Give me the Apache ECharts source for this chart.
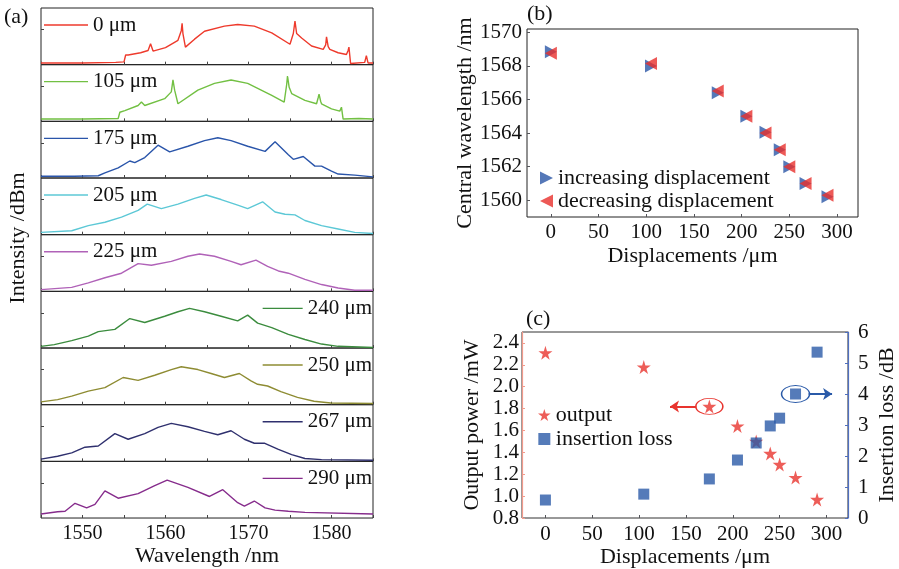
<!doctype html>
<html lang="en">
<head>
  <meta charset="utf-8">
  <title>Spectra and displacement</title>
  <script src="https://cdn.jsdelivr.net/npm/echarts@6/dist/echarts.min.js"></script>
  <style>
    html, body { margin: 0; padding: 0; background: #fff; }
    #chart { width: 899px; height: 569px; }
  </style>
</head>
<body>
  <div id="chart"></div>
  <script type="text/javascript">
    // (a) spectra, [wavelength nm, relative level in panel]
    const spec0 = [[1545,0.03],[1550,0.03],[1554,0.04],[1555,0.05],[1555.2,0.17],[1555.5,0.17],[1557,0.21],[1557.9,0.25],[1558.2,0.37],[1558.5,0.24],[1560,0.30],[1561.5,0.43],[1561.9,0.60],[1562,0.73],[1562.1,0.55],[1562.4,0.31],[1563.5,0.45],[1564.7,0.59],[1567.1,0.68],[1568.7,0.71],[1570.7,0.68],[1572.8,0.56],[1575,0.36],[1575.4,0.55],[1575.6,0.77],[1575.8,0.55],[1576.4,0.47],[1577.6,0.33],[1579,0.27],[1579.3,0.35],[1579.4,0.49],[1579.6,0.32],[1579.8,0.27],[1580.8,0.21],[1581.8,0.18],[1582,0.25],[1582.1,0.31],[1582.3,0.02],[1584,0.04],[1584.2,0.16],[1584.4,0.03],[1585,0.03]];
    const spec105 = [[1545,0.04],[1550,0.04],[1554.3,0.05],[1554.5,0.16],[1555.1,0.19],[1556.7,0.28],[1557.1,0.34],[1557.2,0.36],[1557.5,0.28],[1559.9,0.40],[1560.7,0.52],[1560.9,0.73],[1561.1,0.55],[1561.5,0.31],[1563.9,0.55],[1565.9,0.67],[1567.9,0.73],[1569.9,0.67],[1572.8,0.46],[1574.3,0.34],[1574.6,0.65],[1574.7,0.80],[1574.9,0.60],[1575.2,0.49],[1576.8,0.37],[1578.2,0.31],[1578.4,0.42],[1578.5,0.48],[1578.7,0.35],[1578.8,0.31],[1580,0.22],[1581,0.18],[1581.2,0.25],[1581.4,0.04],[1583.3,0.05],[1583.4,0.08],[1583.5,0.04],[1585,0.04]];
    const spec175 = [[1545,0.03],[1549,0.03],[1551.9,0.04],[1552.7,0.09],[1554.3,0.18],[1555.7,0.30],[1556.3,0.27],[1557.5,0.36],[1559.1,0.58],[1560.5,0.46],[1562.7,0.56],[1564.7,0.66],[1566.3,0.71],[1567.9,0.66],[1569.9,0.56],[1572,0.47],[1573.2,0.64],[1574.8,0.41],[1575.4,0.33],[1576.6,0.38],[1578,0.21],[1578.8,0.21],[1580,0.12],[1580.8,0.07],[1582.8,0.05],[1585,0.02]];
    const spec205 = [[1545,0.04],[1548.7,0.07],[1550.7,0.16],[1552.7,0.22],[1554.7,0.31],[1556.7,0.43],[1557.8,0.54],[1559.5,0.46],[1561.5,0.54],[1563.5,0.64],[1564.9,0.70],[1566.7,0.62],[1568.7,0.52],[1569.9,0.46],[1571.7,0.58],[1573.2,0.40],[1574.4,0.36],[1575.6,0.35],[1576.8,0.25],[1578.8,0.16],[1580.8,0.10],[1582.8,0.04],[1585,0.02]];
    const spec225 = [[1545,0.03],[1548.7,0.07],[1550.7,0.15],[1552.7,0.24],[1554.7,0.32],[1556.7,0.49],[1558.3,0.46],[1560.7,0.53],[1562.7,0.62],[1564.1,0.66],[1565.9,0.62],[1567.9,0.53],[1569.1,0.47],[1570.9,0.55],[1572.3,0.44],[1573.6,0.36],[1574.8,0.32],[1576.8,0.21],[1578.8,0.12],[1580.8,0.06],[1582.8,0.02],[1585,0.02]];
    const spec240 = [[1545,0.03],[1546.6,0.06],[1548.7,0.13],[1550.7,0.21],[1551.9,0.29],[1553.9,0.33],[1555.7,0.52],[1557.5,0.45],[1559.9,0.56],[1561.5,0.64],[1562.9,0.70],[1564.7,0.64],[1566.7,0.56],[1568.7,0.48],[1569.9,0.58],[1571.1,0.44],[1572.8,0.36],[1574.8,0.24],[1576.8,0.15],[1578.8,0.07],[1580.8,0.03],[1585,0.01]];
    const spec250 = [[1545,0.05],[1547,0.09],[1548.7,0.15],[1550.7,0.24],[1552.7,0.30],[1554.9,0.48],[1556.7,0.43],[1558.7,0.52],[1560.7,0.62],[1561.9,0.67],[1563.9,0.62],[1565.5,0.55],[1567.1,0.48],[1568.9,0.55],[1570.3,0.42],[1571.1,0.36],[1572.3,0.33],[1573.9,0.23],[1575.9,0.13],[1577.9,0.06],[1579.9,0.03],[1585,0.02]];
    const spec267 = [[1545,0.04],[1547,0.09],[1548.7,0.15],[1550.3,0.25],[1551.9,0.27],[1553.9,0.49],[1555.5,0.39],[1557.5,0.49],[1559.1,0.60],[1560.7,0.67],[1562.7,0.61],[1564.7,0.53],[1566.3,0.47],[1567.9,0.54],[1569.5,0.39],[1570.7,0.32],[1571.9,0.32],[1573.6,0.21],[1575.2,0.12],[1576.8,0.05],[1578.8,0.03],[1585,0.02]];
    const spec290 = [[1545,0.07],[1547,0.11],[1547.9,0.12],[1549.1,0.26],[1550.5,0.18],[1551.5,0.24],[1552.7,0.48],[1554.3,0.35],[1556.7,0.43],[1558.7,0.57],[1560.2,0.67],[1562.7,0.54],[1565.3,0.38],[1566.9,0.50],[1568.7,0.27],[1569.5,0.21],[1570.7,0.30],[1572,0.18],[1573.2,0.14],[1574.8,0.12],[1576.8,0.10],[1585,0.07]];

    const specNames = ['0 μm', '105 μm', '175 μm', '205 μm', '225 μm', '240 μm', '250 μm', '267 μm', '290 μm'];
    const specColors = ['#ee3a2c', '#72c043', '#2a55aa', '#5cc8d6', '#b062b8', '#3b8c3e', '#8e8c33', '#2f306e', '#862c8c'];
    const spectra = [spec0, spec105, spec175, spec205, spec225, spec240, spec250, spec267, spec290];
    const wlLabels = [1550, 1560, 1570, 1580];

    // (b) central wavelength vs displacement
    const displacements = [0, 105, 175, 205, 225, 240, 250, 267, 290];
    const wlIncreasing = [1568.85, 1568.0, 1566.4, 1565.0, 1564.05, 1563.0, 1562.0, 1561.0, 1560.2];
    const wlDecreasing = [1568.75, 1568.15, 1566.5, 1565.0, 1564.0, 1563.0, 1562.0, 1561.0, 1560.3];
    const wlTicks = [1560, 1562, 1564, 1566, 1568, 1570];
    const dispTicks = [0, 50, 100, 150, 200, 250, 300];

    // (c) output power and insertion loss
    const outputPower = [2.31, 2.18, 1.82, 1.64, 1.50, 1.39, 1.29, 1.17, 0.97];
    const insertionLoss = [0.58, 0.77, 1.26, 1.87, 2.42, 2.97, 3.22, 4.0, 5.35];
    const powerTicks = [0.8, 1.0, 1.2, 1.4, 1.6, 1.8, 2.0, 2.2, 2.4];

    const FONT = '"Liberation Serif", "DejaVu Serif", serif';
    const plain = v => String(v);
    const triRight = 'path://M0,0 L10,5 L0,10 Z';
    const triLeft = 'path://M10,0 L0,5 L10,10 Z';
    const star = 'path://M50,0 L61,35 L98,35 L68,57 L79,91 L50,70 L21,91 L32,57 L2,35 L39,35 Z';
    const square = 'path://M0,0 H10 V10 H0 Z';
    const ellipse = 'path://M0,10 A20,10 0 1,1 40,10 A20,10 0 1,1 0,10 Z';

    const chart = echarts.init(document.getElementById('chart'));

    const grids = [], xAxes = [], yAxes = [], series = [], legends = [];
    const aTop = 8, aH = 56.67;
    spectra.forEach((d, i) => {
      const last = i === spectra.length - 1;
      grids.push({ left: 41, width: 332, top: aTop + i * aH, height: aH, show: true, borderColor: '#222', borderWidth: 1 });
      xAxes.push({
        type: 'value', gridIndex: i, min: 1545, max: 1585, interval: 5,
        axisLine: { show: false },
        axisTick: { show: true, inside: true, length: 3, lineStyle: { color: '#444' } },
        axisLabel: last ? { show: true, customValues: wlLabels, formatter: plain, fontFamily: FONT, fontSize: 20, color: '#111', margin: 6 } : { show: false },
        splitLine: { show: false },
        name: last ? 'Wavelength /nm' : '', nameLocation: 'middle', nameGap: 27,
        nameTextStyle: { fontFamily: FONT, fontSize: 22, color: '#111' }
      });
      yAxes.push({
        type: 'value', gridIndex: i, min: 0, max: 1,
        axisLine: { show: false, onZero: false },
        axisTick: { show: true, inside: true, length: 3, customValues: [0.62], lineStyle: { color: '#444' } },
        axisLabel: { show: false }, splitLine: { show: false }
      });
      series.push({
        name: specNames[i], type: 'line', xAxisIndex: i, yAxisIndex: i,
        data: d, symbol: 'none', showSymbol: false,
        lineStyle: { width: 1.4, color: specColors[i] }, itemStyle: { color: specColors[i] }
      });
      const leg = {
        data: [specNames[i]], icon: 'rect', itemWidth: i < 5 ? 44 : 40, itemHeight: 1.4,
        top: aTop + i * aH + 6, textStyle: { fontFamily: FONT, fontSize: 21, lineHeight: 22, color: '#111' },
        selectedMode: false, padding: 0
      };
      if (i < 5) leg.left = 44; else leg.right = 527;
      legends.push(leg);
    });

    // (b)
    grids.push({ left: 527, right: 41, top: 29, height: 188, show: true, borderColor: '#222', borderWidth: 1 });
    xAxes.push({
      type: 'value', gridIndex: 9, min: -25, max: 322,
      axisLine: { show: false, onZero: false },
      axisTick: { show: true, inside: true, length: 3, customValues: dispTicks },
      axisLabel: { customValues: dispTicks, formatter: plain, fontFamily: FONT, fontSize: 21, color: '#111', margin: 5 },
      splitLine: { show: false },
      name: 'Displacements /μm', nameLocation: 'middle', nameGap: 28,
      nameTextStyle: { fontFamily: FONT, fontSize: 22, color: '#111' }
    });
    yAxes.push({
      type: 'value', gridIndex: 9, min: 1559, max: 1570.2,
      axisLine: { show: false, onZero: false },
      axisTick: { show: true, inside: true, length: 3, customValues: wlTicks },
      axisLabel: { customValues: wlTicks, formatter: plain, fontFamily: FONT, fontSize: 21, color: '#111', margin: 5 },
      splitLine: { show: false },
      name: 'Central wavelength /nm', nameLocation: 'middle', nameGap: 51,
      nameTextStyle: { fontFamily: FONT, fontSize: 22, color: '#111' }
    });
    series.push({
      name: 'increasing displacement', type: 'scatter', xAxisIndex: 9, yAxisIndex: 9,
      data: displacements.map((x, k) => [x, wlIncreasing[k]]),
      symbol: triRight, symbolSize: [12, 13], itemStyle: { color: '#2a56a6' }
    });
    series.push({
      name: 'decreasing displacement', type: 'scatter', xAxisIndex: 9, yAxisIndex: 9,
      data: displacements.map((x, k) => [x, wlDecreasing[k]]),
      symbol: triLeft, symbolSize: [12, 13], itemStyle: { color: '#e8302c' }, z: 3
    });
    legends.push({
      data: [{ name: 'increasing displacement', icon: triRight }, { name: 'decreasing displacement', icon: triLeft }],
      orient: 'vertical', left: 540, top: 167, itemWidth: 13, itemHeight: 14, itemGap: 1, padding: 0,
      selectedMode: false,
      textStyle: { fontFamily: FONT, fontSize: 22, lineHeight: 22, color: '#111' }
    });

    // (c)
    grids.push({ left: 522, right: 45, top: 332, height: 186, show: true, borderColor: '#333', borderWidth: 1 });
    xAxes.push({
      type: 'value', gridIndex: 10, min: -25, max: 323,
      axisLine: { show: false, onZero: false },
      axisTick: { show: true, inside: true, length: 3, customValues: dispTicks },
      axisLabel: { customValues: dispTicks, formatter: plain, fontFamily: FONT, fontSize: 21, color: '#111', margin: 6 },
      splitLine: { show: false },
      name: 'Displacements /μm', nameLocation: 'middle', nameGap: 28,
      nameTextStyle: { fontFamily: FONT, fontSize: 22, color: '#111' }
    });
    yAxes.push({
      type: 'value', gridIndex: 10, min: 0.8, max: 2.5, position: 'left',
      axisLine: { show: true, onZero: false, lineStyle: { color: '#f29a8c', width: 1.2 } },
      axisTick: { show: true, inside: true, length: 3, customValues: powerTicks },
      axisLabel: { customValues: powerTicks, formatter: v => v.toFixed(1), fontFamily: FONT, fontSize: 21, color: '#111', margin: 3 },
      splitLine: { show: false },
      name: 'Output power /mW', nameLocation: 'middle', nameGap: 39,
      nameTextStyle: { fontFamily: FONT, fontSize: 22, color: '#111' }
    });
    yAxes.push({
      type: 'value', gridIndex: 10, min: 0, max: 6, interval: 1, position: 'right',
      axisLine: { show: true, onZero: false, lineStyle: { color: '#4f6fc0', width: 1.2 } },
      axisTick: { show: true, inside: true, length: 3 },
      axisLabel: { fontFamily: FONT, fontSize: 21, color: '#111', margin: 10 },
      splitLine: { show: false },
      name: 'Insertion loss /dB', nameLocation: 'middle', nameGap: 28,
      nameTextStyle: { fontFamily: FONT, fontSize: 22, color: '#111' }
    });
    series.push({
      name: 'output', type: 'scatter', xAxisIndex: 10, yAxisIndex: 10,
      data: displacements.map((x, k) => [x, outputPower[k]]),
      symbol: star, symbolSize: 14, itemStyle: { color: '#e8342e' },
      markPoint: {
        symbol: ellipse, symbolKeepAspect: false, symbolSize: [27, 16], silent: true,
        itemStyle: { color: 'rgba(0,0,0,0)', borderColor: '#e8342e', borderWidth: 1.2 },
        label: { show: false },
        data: [{ coord: [175, 1.82] }]
      },
      markLine: {
        silent: true, symbol: ['none', 'arrow'], symbolSize: 9,
        lineStyle: { color: '#e8342e', width: 2, type: 'solid' }, label: { show: false },
        data: [[{ coord: [161, 1.82] }, { coord: [133, 1.82] }]]
      }
    });
    series.push({
      name: 'insertion loss', type: 'scatter', xAxisIndex: 10, yAxisIndex: 11,
      data: displacements.map((x, k) => [x, insertionLoss[k]]),
      symbol: 'rect', symbolSize: 11, itemStyle: { color: '#2a5aa8' },
      markPoint: {
        symbol: ellipse, symbolKeepAspect: false, symbolSize: [28, 17], silent: true,
        itemStyle: { color: 'rgba(0,0,0,0)', borderColor: '#2a5aa8', borderWidth: 1.2 },
        label: { show: false },
        data: [{ coord: [267, 4.0] }]
      },
      markLine: {
        silent: true, symbol: ['none', 'arrow'], symbolSize: 9,
        lineStyle: { color: '#2a5aa8', width: 2, type: 'solid' }, label: { show: false },
        data: [[{ coord: [281, 4.0] }, { coord: [306, 4.0] }]]
      }
    });
    legends.push({
      data: [{ name: 'output', icon: star }, { name: 'insertion loss', icon: square }],
      orient: 'vertical', left: 538, top: 404, itemWidth: 13, itemHeight: 12, itemGap: 2, padding: 0,
      selectedMode: false,
      textStyle: { fontFamily: FONT, fontSize: 22, lineHeight: 22, color: '#111' }
    });

    const option = {
      animation: false,
      backgroundColor: '#fff',
      title: [
        { text: '(a)', left: 4, top: 6, padding: 0, textStyle: { fontFamily: FONT, fontSize: 22, fontWeight: 'normal', color: '#111' } },
        { text: '(b)', left: 527, top: 3, padding: 0, textStyle: { fontFamily: FONT, fontSize: 22, fontWeight: 'normal', color: '#111' } },
        { text: '(c)', left: 526, top: 308, padding: 0, textStyle: { fontFamily: FONT, fontSize: 22, fontWeight: 'normal', color: '#111' } }
      ],
      graphic: [{
        type: 'text', x: 18, y: 238, rotation: Math.PI / 2,
        style: { text: 'Intensity /dBm', fontFamily: FONT, fontSize: 22, fill: '#111', align: 'center', verticalAlign: 'middle' }
      }],
      legend: legends,
      grid: grids,
      xAxis: xAxes,
      yAxis: yAxes,
      series: series
    };
    chart.setOption(option);
  </script>
</body>
</html>
